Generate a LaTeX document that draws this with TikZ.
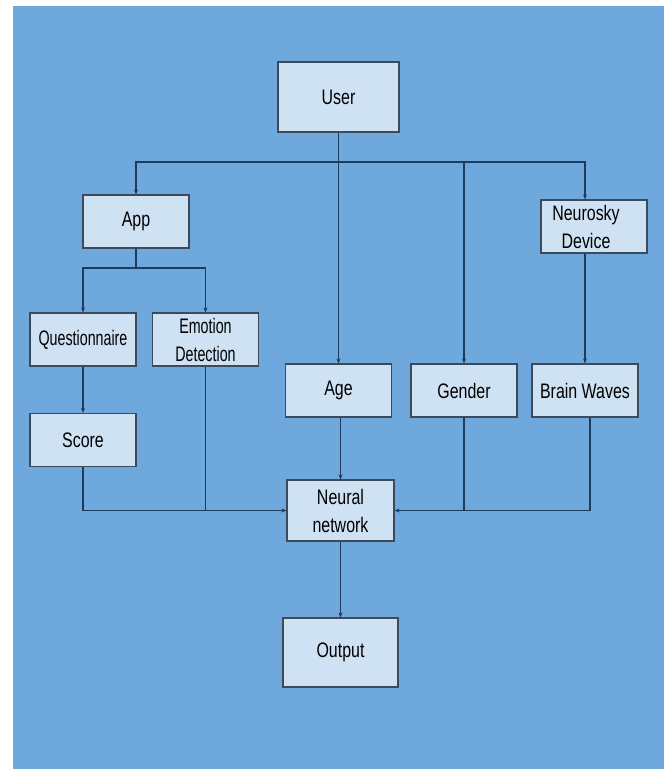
\documentclass[tikz,border=0pt]{standalone}
\usepackage{fontspec}
\setmainfont{Liberation Sans}[FakeStretch=0.76]
\newfontfamily\narrowfont{Liberation Sans}[FakeStretch=0.68]
\usetikzlibrary{positioning,arrows.meta}

\definecolor{bgblue}{HTML}{6FA8DC}
\definecolor{boxblue}{HTML}{CFE2F3}
\definecolor{boxline}{HTML}{3D4A5A}
\definecolor{wireblue}{HTML}{1F3A5F}

\tikzset{
	box/.style={draw=boxline, fill=boxblue, line width=1.1pt, minimum width=106pt, minimum height=53pt,
		inner sep=2pt, align=center, font=\fontsize{21}{28}\selectfont},
	narrowbox/.style={box, font=\narrowfont\fontsize{21}{28}\selectfont},
	wire/.style={draw=wireblue, line width=1.2pt},
}

\begin{document}
\begin{tikzpicture}[x=1pt, y=1pt, node distance=120pt, >={Stealth[length=5pt,width=4pt]}]
	\fill[white] (0,0) rectangle (664,769);
	\fill[bgblue] (13,0) rectangle (664,763);
	\useasboundingbox (0,0) rectangle (664,769);

	\node[box, minimum width=121pt, minimum height=70pt] (user) at (338.5,672) {User};
	\coordinate[below of=user, node distance=65pt] (bus);
	\node[box, below of=user, node distance=293.5pt] (age) {Age};
	\node[box, right of=age, node distance=125.5pt] (gender) {Gender};
	\node[box, right of=gender, node distance=121pt] (brain) {Brain Waves};
	\node[box] (neuro) at (594,542.5) {Neurosky\hspace*{16pt}\\Device\hspace*{16pt}};
	\node[box, below of=age, node distance=120pt, xshift=2pt, minimum width=107pt, minimum height=61pt] (nn) {Neural\\network};
	\node[box, below of=nn, node distance=142pt, minimum width=115pt, minimum height=69pt] (output) {Output};

	\node[box] (app) at (136,547.5) {App};
	\coordinate[below of=app, node distance=46.5pt] (appbus);
	\node[narrowbox, below of=app, node distance=118pt, xshift=-53pt] (quest) {Questionnaire};
	\node[narrowbox, right of=quest, node distance=122.5pt] (emotion) {Emotion\\Detection};
	\node[box, below of=quest, node distance=100.5pt] (score) {Score};

	% user fans out
	\draw[wire,->] (user) -- (age);
	\draw[wire,->] (bus) -| (app);
	\draw[wire,->] (bus) -| (gender);
	\draw[wire,->] (bus) -| (neuro.north -| brain);
	\draw[wire,->] (neuro.south -| brain) -- (brain);

	% app branch
	\draw[wire] (app) -- (appbus);
	\draw[wire,->] (appbus) -| (quest);
	\draw[wire,->] (appbus) -| (emotion);
	\draw[wire,->] (quest) -- (score);

	% into the network
	\draw[wire,->] (score) |- (nn);
	\draw[wire] (emotion) -- (emotion |- nn);
	\draw[wire,->] (age.south -| nn) -- (nn);
	\draw[wire] (gender) -- (gender |- nn);
	\draw[wire,->] ([xshift=5pt]brain.south) |- (nn);
	\draw[wire,->] (nn) -- (output);
\end{tikzpicture}
\end{document}
